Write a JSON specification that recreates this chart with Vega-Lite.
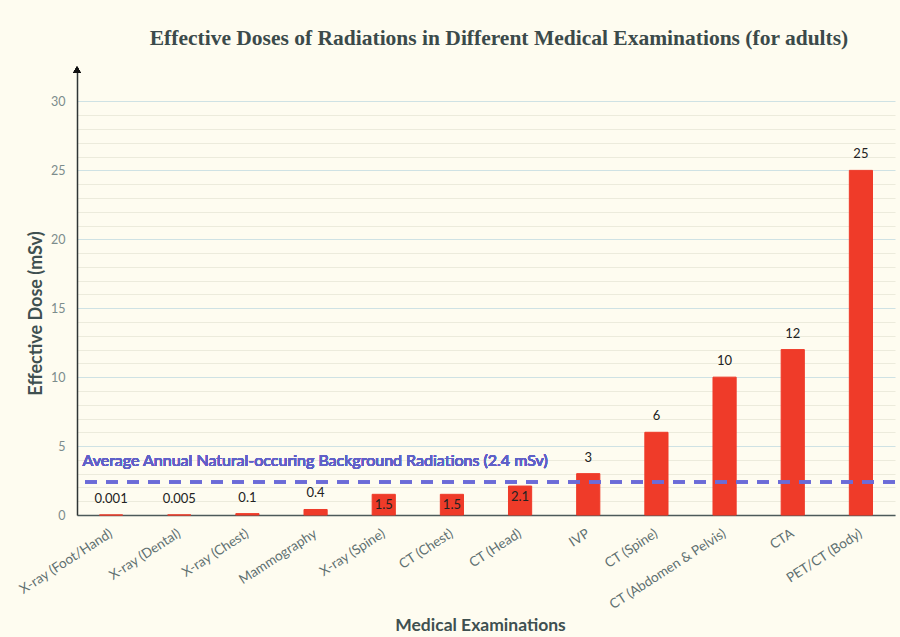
{
  "$schema": "https://vega.github.io/schema/vega-lite/v6.json",
  "autosize": "none",
  "width": 818,
  "height": 448,
  "padding": {"left": 77, "top": 67, "right": 5, "bottom": 122},
  "background": "#fefcf0",
  "title": {
    "text": "Effective Doses of Radiations in Different Medical Examinations (for adults)",
    "font": "Liberation Serif",
    "fontSize": 21.5,
    "fontWeight": "bold",
    "color": "#3b4a4a",
    "anchor": "middle",
    "dx": 13,
    "offset": 17
  },
  "data": {
    "values": [
      {"exam": "X-ray (Foot/Hand)", "dose": 0.001},
      {"exam": "X-ray (Dental)", "dose": 0.005},
      {"exam": "X-ray (Chest)", "dose": 0.1},
      {"exam": "Mammography", "dose": 0.4},
      {"exam": "X-ray (Spine)", "dose": 1.5},
      {"exam": "CT (Chest)", "dose": 1.5},
      {"exam": "CT (Head)", "dose": 2.1},
      {"exam": "IVP", "dose": 3},
      {"exam": "CT (Spine)", "dose": 6},
      {"exam": "CT (Abdomen & Pelvis)", "dose": 10},
      {"exam": "CTA", "dose": 12},
      {"exam": "PET/CT (Body)", "dose": 25}
    ]
  },
  "encoding": {
    "x": {
      "field": "exam",
      "type": "nominal",
      "sort": null,
      "scale": {"paddingInner": 0.66, "paddingOuter": 0.33},
      "axis": {
        "title": "Medical Examinations",
        "titleFont": "Lato",
        "titleFontSize": 17.5,
        "titleFontWeight": "bold",
        "titleColor": "#3f5050",
        "titleX": 403,
        "titleY": 110,
        "titleBaseline": "middle",
        "labelFont": "Lato",
        "labelFontSize": 13.5,
        "labelColor": "#5f7070",
        "labelAngle": -33,
        "labelAlign": "right",
        "labelBaseline": "middle",
        "labelPadding": 17,
        "labelOverlap": false,
        "labelLimit": 300,
        "ticks": false,
        "domainColor": "#4d5a5a",
        "domainWidth": 1.5
      }
    }
  },
  "resolve": {"axis": {"y": "independent"}},
  "layer": [
    {
      "mark": {"type": "rule", "color": "#6b6bd8", "strokeDash": [12, 9], "strokeWidth": 2.5, "opacity": 0},
      "encoding": {
        "y": {
          "datum": 2.4,
          "type": "quantitative",
          "scale": {"domain": [0, 32.5], "nice": false},
          "axis": {
            "orient": "right",
            "title": null,
            "values": [0,1,2,3,4,6,7,8,9,11,12,13,14,16,17,18,19,21,22,23,24,26,27,28,29],
            "labels": false,
            "ticks": false,
            "domain": false,
            "grid": true,
            "gridColor": "#ecebdc",
            "gridWidth": 1
          }
        },
        "x": null
      }
    },
    {
      "mark": {"type": "bar", "color": "#ef3b29", "stroke": "#ef3b29", "strokeWidth": 1},
      "encoding": {
        "y": {
          "field": "dose",
          "type": "quantitative",
          "scale": {"domain": [0, 32.5], "nice": false},
          "axis": {
            "orient": "left",
            "title": "Effective Dose  (mSv)",
            "titleFont": "Lato",
            "titleFontSize": 18,
            "titleFontWeight": "bold",
            "titleColor": "#3f5050",
            "titleX": -41,
            "titleY": 246,
            "titleAlign": "center",
            "titleBaseline": "middle",
            "values": [0, 5, 10, 15, 20, 25, 30],
            "labelFont": "Lato",
            "labelFontSize": 12.5,
            "labelColor": "#7c8c8c",
            "labelPadding": 12,
            "labelOverlap": false,
            "ticks": false,
            "domainColor": "#2f3535",
            "domainWidth": 1.5,
            "grid": true,
            "gridColor": "#cfe2e4",
            "gridWidth": 1
          }
        }
      }
    },
    {
      "mark": {"type": "rule", "color": "#6b6bd8", "strokeDash": [12, 9], "strokeWidth": 2.5},
      "encoding": {"y": {"datum": 2.4, "type": "quantitative", "axis": null}, "x": null}
    },
    {
      "mark": {"type": "text", "align": "left", "baseline": "middle", "font": "Lato", "fontSize": 16, "color": "#6060c8", "dx": -17},
      "encoding": {
        "x": {"datum": "X-ray (Foot/Hand)", "bandPosition": 0},
        "y": {"datum": 3.9, "type": "quantitative", "axis": null},
        "text": {"value": "Average Annual Natural-occuring Background Radiations (2.4 mSv)"}
      }
    },
    {
      "transform": [{"filter": "datum.dose < 1 || datum.dose >= 2.4"}],
      "mark": {"type": "text", "baseline": "middle", "font": "Lato", "fontSize": 13, "color": "#222222", "dy": -16},
      "encoding": {
        "y": {"field": "dose", "type": "quantitative", "axis": null},
        "text": {"field": "dose", "type": "quantitative"}
      }
    },
    {
      "transform": [{"filter": "datum.dose >= 1 && datum.dose < 2.4"}],
      "mark": {"type": "text", "baseline": "middle", "font": "Lato", "fontSize": 13, "color": "#222222", "dy": 11},
      "encoding": {
        "y": {"field": "dose", "type": "quantitative", "axis": null},
        "text": {"field": "dose", "type": "quantitative"}
      }
    },
    {
      "mark": {"type": "point", "shape": "triangle-up", "filled": true, "color": "#111111", "size": 60},
      "encoding": {
        "x": {"value": 0},
        "y": {"datum": 32.3, "type": "quantitative", "axis": null}
      }
    }
  ],
  "config": {
    "view": {"stroke": null}
  }
}
